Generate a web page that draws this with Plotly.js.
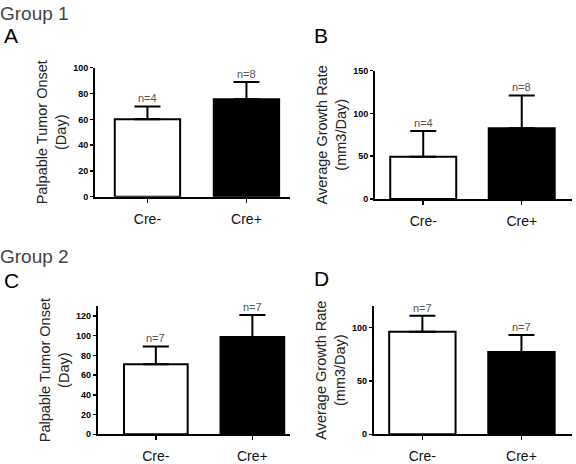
<!DOCTYPE html>
<html><head><meta charset="utf-8">
<script src="https://cdn.plot.ly/plotly-3.0.1.min.js"></script>
<style>html,body{margin:0;padding:0;background:#fff}</style>
</head><body><div id="chart" style="width:576px;height:464px"></div>
<script>
const categories = ['Cre-', 'Cre+'];
const g1OnsetMean = [60, 75.5];
const g1OnsetErr = [10, 13.5];
const g1GrowthMean = [49.5, 82.5];
const g1GrowthErr = [30, 38.5];
const g2OnsetMean = [71, 98.5];
const g2OnsetErr = [18, 22.5];
const g2GrowthMean = [96, 77];
const g2GrowthErr = [15, 16];
const g1N = ['n=4', 'n=8'];
const g2N = ['n=7', 'n=7'];

const FONT = 'Liberation Sans, Arial, sans-serif';
const fills = ['#ffffff', '#000000'];

function barTrace(mean, err, xa, ya, width) {
  return {
    type: 'bar', x: categories, y: mean, xaxis: xa, yaxis: ya, width: width,
    marker: {color: fills, line: {color: '#000', width: 2}},
    error_y: {type: 'data', symmetric: false, array: err, arrayminus: err.map(() => 0),
              color: '#000', thickness: 2, width: 13},
    showlegend: false, hoverinfo: 'skip'
  };
}
const data = [
  barTrace(g1OnsetMean, g1OnsetErr, 'x', 'y', 0.66),
  barTrace(g1GrowthMean, g1GrowthErr, 'x2', 'y2', 0.67),
  barTrace(g2OnsetMean, g2OnsetErr, 'x3', 'y3', 0.66),
  barTrace(g2GrowthMean, g2GrowthErr, 'x4', 'y4', 0.67)
];

function xAxis(domain, range, anchor) {
  return {domain: domain, range: range, anchor: anchor, showline: true, linecolor: '#000', linewidth: 2,
          ticks: 'outside', ticklen: 4, tickwidth: 1.5, tickcolor: '#000', showgrid: false, zeroline: false,
          ticklabelstandoff: 4,
          tickfont: {family: FONT, size: 14, color: '#111'}, fixedrange: true};
}
function yAxis(domain, range, dtick, anchor, title) {
  return {domain: domain, range: range, dtick: dtick, anchor: anchor, showline: true, linecolor: '#000', linewidth: 2,
          ticks: 'outside', ticklen: 3, tickwidth: 1.5, tickcolor: '#000', showgrid: false, zeroline: false,
          tickfont: {family: FONT, size: 9, color: '#000', weight: 'bold'},
          title: {text: title, font: {family: FONT, size: 14.5, color: '#222'}, standoff: 3}, fixedrange: true};
}

function nAnn(xref, yref, mean, err, labels) {
  return categories.map((c, i) => ({
    x: c, y: mean[i] + err[i], xref: xref, yref: yref, text: labels[i], showarrow: false,
    yanchor: 'bottom', yshift: 0, font: {family: FONT, size: 11, color: '#555'}
  }));
}
function label(text, x, y, size, color) {
  return {text: text, x: x, y: y, xref: 'paper', yref: 'paper', xanchor: 'left', yanchor: 'middle',
          showarrow: false, font: {family: FONT, size: size, color: color}};
}

const layout = {
  width: 576, height: 464, margin: {l: 0, r: 0, t: 0, b: 0},
  paper_bgcolor: '#fff', plot_bgcolor: '#fff', bargap: 0,
  xaxis: xAxis([0.1649, 0.5035], [-0.53, 1.44], 'y'),
  yaxis: yAxis([0.576, 0.854], [0, 100], 20, 'x', 'Palpable Tumor Onset<br>(Day)'),
  xaxis2: xAxis([0.651, 0.993], [-0.49, 1.51], 'y2'),
  yaxis2: yAxis([0.571, 0.848], [0, 150], 50, 'x2', 'Average Growth Rate<br>(mm3/Day)'),
  xaxis3: xAxis([0.170, 0.5035], [-0.60, 1.39], 'y3'),
  yaxis3: yAxis([0.064, 0.3405], [0, 130], 20, 'x3', 'Palpable Tumor Onset<br>(Day)'),
  xaxis4: xAxis([0.649, 0.993], [-0.49, 1.51], 'y4'),
  yaxis4: yAxis([0.064, 0.3405], [0, 120], 50, 'x4', 'Average Growth Rate<br>(mm3/Day)'),
  annotations: [].concat(
    nAnn('x', 'y', g1OnsetMean, g1OnsetErr, g1N),
    nAnn('x2', 'y2', g1GrowthMean, g1GrowthErr, g1N),
    nAnn('x3', 'y3', g2OnsetMean, g2OnsetErr, g2N),
    nAnn('x4', 'y4', g2GrowthMean, g2GrowthErr, g2N),
    [
      label('Group 1', -0.004, 1 - 13/464, 19, '#444'),
      label('A', 0.003, 1 - 36/464, 21, '#000'),
      label('B', 0.541, 1 - 35/464, 21, '#000'),
      label('Group 2', -0.004, 1 - 256/464, 19, '#444'),
      label('C', 0.003, 1 - 280/464, 21, '#000'),
      label('D', 0.541, 1 - 278/464, 21, '#000')
    ]
  )
};
Plotly.newPlot('chart', data, layout, {staticPlot: true});
</script></body></html>
